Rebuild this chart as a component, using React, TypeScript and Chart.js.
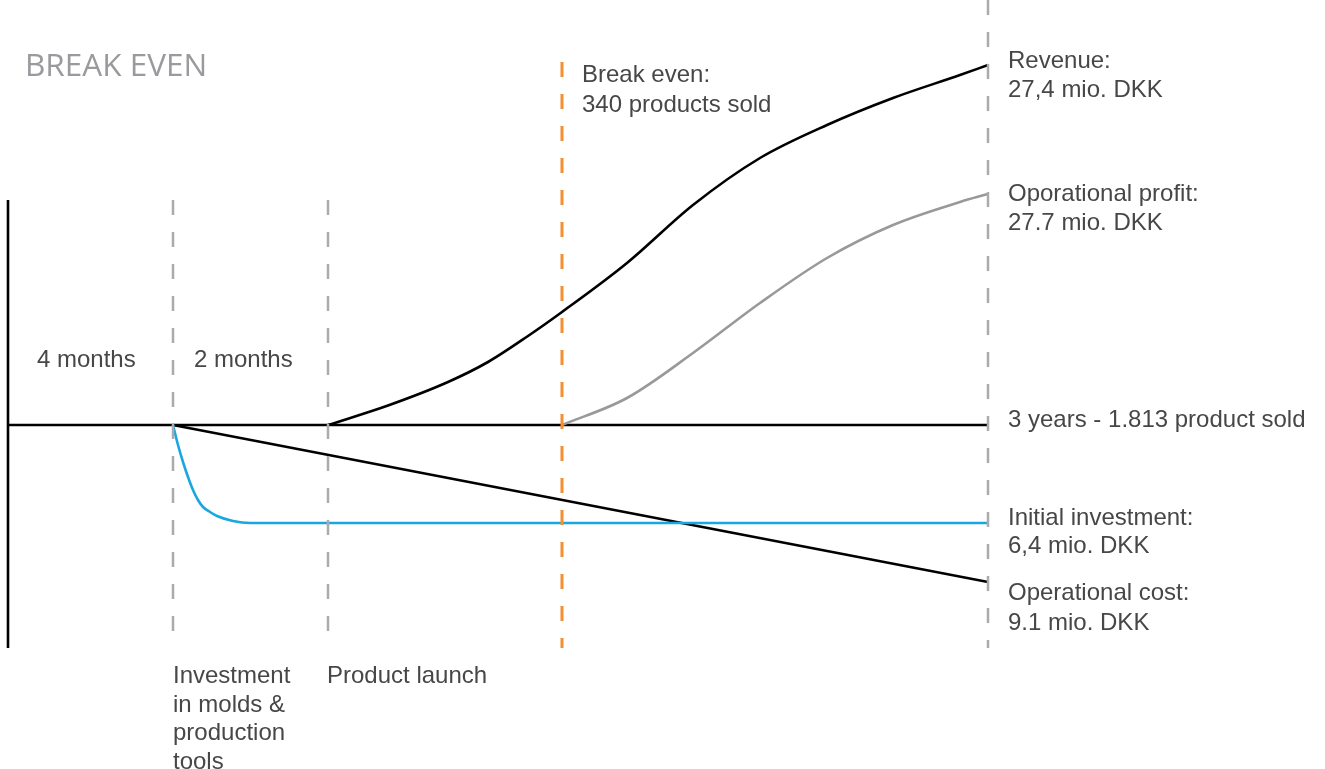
import React, { useEffect, useRef } from "react";
import { Chart, registerables } from "chart.js";

Chart.register(...registerables);

// x: progress units along timeline (0 = start, 98 = 3 years); y: value units (0 = break-even baseline)
const revenueX = [32, 38, 44, 48, 52, 55.4, 61.9, 68.5, 75.2, 81.9, 88.5, 95.2, 98];
const revenueY = [0, 1.95, 4.3, 6.3, 8.9, 11.3, 16.2, 22.0, 26.7, 30.0, 32.7, 35.0, 36.0];

const profitX = [55.4, 61.9, 68.5, 75.2, 81.9, 88.5, 95.2, 98];
const profitY = [0, 2.7, 7.2, 12.2, 16.7, 20.0, 22.3, 23.1];

const investX = [16.5, 17, 17.5, 18, 18.5, 19, 19.5, 20.2, 20.9, 22.5, 24.2, 98];
const investY = [0, -2.0, -3.7, -5.2, -6.5, -7.5, -8.2, -8.7, -9.1, -9.6, -9.8, -9.8];

const opCostX = [16.5, 98];
const opCostY = [0, -15.7];

const baselineX = [0, 98];
const baselineY = [0, 0];

const axisTop = 22.5;
const axisBottom = -22.3;
const milestonesX = [16.5, 32];
const endX = 98;
const endTop = 42.5;
const breakEvenX = 55.4;
const breakEvenTop = 36.3;

const titleText = "BREAK EVEN";
const labelTexts: string[][] = [
  ["4 months"],
  ["2 months"],
  ["Break even:", "340 products sold"],
  ["Revenue:", "27,4 mio. DKK"],
  ["Oporational profit:", "27.7 mio. DKK"],
  ["3 years - 1.813 product sold"],
  ["Initial investment:", "6,4 mio. DKK"],
  ["Operational cost:", "9.1 mio. DKK"],
  ["Investment", "in molds &", "production", "tools"],
  ["Product launch"],
];
// anchor positions (data units) and line heights (px) for the label blocks
const labelAnchorX = [2.9, 18.6, 57.4, 100, 100, 100, 100, 100, 16.5, 31.9];
const labelAnchorY = [5.8, 5.8, 34.3, 35.7, 22.4, -0.2, -10.0, -17.5, -25.8, -25.8];
const labelLineHeight = [30, 30, 30, 29, 29, 30, 28, 30, 28.5, 30];

const pts = (xs: number[], ys: number[]) => xs.map((x, i) => ({ x, y: ys[i] }));

export default function App() {
  const ref = useRef<HTMLCanvasElement | null>(null);

  useEffect(() => {
    if (!ref.current) return;
    const grayDash = "#ababab";
    const textPlugin = {
      id: "texts",
      afterDraw(chart: any) {
        const ctx = chart.ctx;
        const xs = chart.scales.x;
        const ys = chart.scales.y;
        ctx.save();
        ctx.textBaseline = "alphabetic";
        ctx.textAlign = "left";
        ctx.fillStyle = "#9a9a9e";
        ctx.font = '31.5px "Open Sans"';
        ctx.fillText(titleText, xs.getPixelForValue(1.7), ys.getPixelForValue(34.9));
        ctx.fillStyle = "#474747";
        ctx.font = '24px "Liberation Sans", Arial, sans-serif';
        labelTexts.forEach((lines, i) => {
          const px = xs.getPixelForValue(labelAnchorX[i]);
          const py = ys.getPixelForValue(labelAnchorY[i]);
          lines.forEach((t, j) => ctx.fillText(t, px, py + j * labelLineHeight[i]));
        });
        ctx.restore();
      },
    };

    const vline = (x: number, top: number, bottom: number, color: string, width: number) => ({
      data: [
        { x, y: top },
        { x, y: bottom },
      ],
      borderColor: color,
      borderWidth: width,
      borderDash: [15, 17],
      borderCapStyle: "butt",
      pointRadius: 0,
      showLine: true,
      clip: false,
    });

    const curve = (data: any[], color: string, width: number) => ({
      data,
      borderColor: color,
      borderWidth: width,
      pointRadius: 0,
      showLine: true,
      cubicInterpolationMode: "monotone",
      clip: false,
    });

    const chart = new Chart(ref.current, {
      type: "scatter",
      data: {
        datasets: [
          vline(breakEvenX, breakEvenTop, axisBottom, "#f39030", 3),
          ...milestonesX.map((m) => vline(m, axisTop, axisBottom, grayDash, 2.5)),
          vline(endX, endTop, axisBottom, grayDash, 2.5),
          curve(pts(revenueX, revenueY), "#000000", 2.6),
          curve(pts(profitX, profitY), "#999999", 2.6),
          curve(pts(investX, investY), "#1aa7e1", 2.6),
          curve(pts(opCostX, opCostY), "#000000", 2.6),
          curve(pts(baselineX, baselineY), "#000000", 2.6),
          curve(
            [
              { x: 0, y: axisTop },
              { x: 0, y: axisBottom },
            ],
            "#000000",
            2.6
          ),
        ] as any,
      },
      options: {
        animation: false,
        responsive: false,
        maintainAspectRatio: false,
        events: [],
        layout: { padding: 0 },
        plugins: { legend: { display: false }, tooltip: { enabled: false }, title: { display: false } },
        scales: {
          x: { type: "linear", min: -0.8, max: 131.7, display: false },
          y: { type: "linear", min: -34.4, max: 42.5, display: false },
        },
      } as any,
      plugins: [textPlugin],
    });
    return () => chart.destroy();
  }, []);

  return (
    <div style={{ position: "absolute", left: 0, top: 0, width: 1325, height: 769, background: "#fff" }}>
      <canvas ref={ref} width={1325} height={769} style={{ display: "block" }} />
    </div>
  );
}
